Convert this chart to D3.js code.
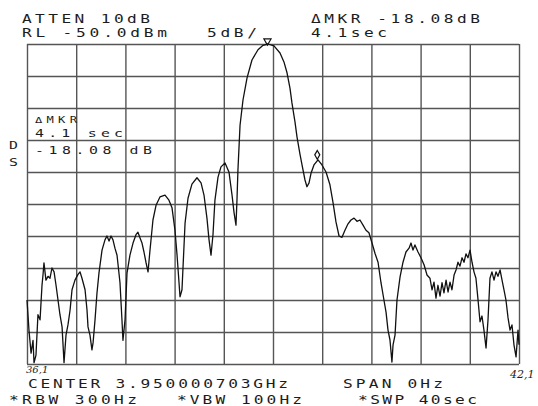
<!DOCTYPE html>
<html>
<head>
<meta charset="utf-8">
<script src="https://cdn.jsdelivr.net/npm/d3@7"></script>
<style>
    body { margin: 0; background: #fff; }
    text { font-family: "DejaVu Sans Mono", monospace; fill: #1c1c1c; }
</style>
</head>
<body>
<div id="chart"></div>
<script>

    // trace: time in sec (span 0 Hz, sweep 40 sec), level in dBm
    var traceT = [0, 0.16, 0.33, 0.49, 0.57, 0.73, 0.89, 1.06, 1.22, 1.30, 1.38, 1.54, 1.71, 1.87, 2.03, 2.20,
        2.36, 2.52, 2.68, 2.85, 3.01, 3.17, 3.33, 3.50, 3.66, 3.90, 4.15, 4.31, 4.47, 4.72, 4.88, 4.96,
        5.12, 5.28, 5.37, 5.53, 5.69, 5.85, 6.10, 6.34, 6.50, 6.67, 6.83, 6.99, 7.15, 7.32, 7.56, 7.72,
        7.80, 7.97, 8.13, 8.37, 8.62, 8.86, 9.02, 9.19, 9.35, 9.51, 9.67, 9.84, 10.0, 10.24, 10.49, 10.81,
        11.22, 11.54, 11.79, 12.03, 12.20, 12.44, 12.60, 12.85, 13.09, 13.41, 13.82, 14.15, 14.39, 14.63,
        14.80, 14.96, 15.12, 15.28, 15.53, 15.77, 16.10, 16.42, 16.67, 16.83, 16.99, 17.07, 17.15, 17.32,
        17.56, 17.89, 18.29, 18.78, 19.19, 19.59, 20.08, 20.57, 20.89, 21.14, 21.38, 21.54, 21.79, 21.95,
        22.20, 22.36, 22.60, 22.76, 22.93, 23.09, 23.33, 23.66, 23.98, 24.31, 24.63, 24.88, 25.12, 25.37,
        25.61, 25.85, 26.10, 26.34, 26.59, 26.83, 27.07, 27.32, 27.56, 27.80, 28.05, 28.29, 28.54, 28.78,
        29.02, 29.19, 29.35, 29.51, 29.67, 29.76, 29.92, 30.08, 30.33, 30.57, 30.81, 31.06, 31.22, 31.38,
        31.54, 31.79, 32.03, 32.28, 32.52, 32.76, 32.93, 33.09, 33.25, 33.41, 33.58, 33.74, 33.90, 34.07,
        34.23, 34.39, 34.55, 34.72, 34.88, 35.04, 35.20, 35.37, 35.53, 35.69, 35.85, 36.02, 36.18, 36.34,
        36.50, 36.67, 36.83, 36.99, 37.15, 37.32, 37.48, 37.64, 37.80, 37.97, 38.13, 38.29, 38.46, 38.62,
        38.78, 38.94, 39.11, 39.27, 39.43, 39.59, 39.76, 39.92, 40.0];

    var traceDbm = [-90, -94.7, -98.3, -96.3, -99.8, -98.6, -92.3, -93.1, -87.7, -86.1, -84.2, -86.9, -86.3, -86.6, -85.0, -85.6,
        -87.7, -90.0, -92.3, -94.2, -99.8, -95.5, -93.9, -91.6, -88.4, -86.9, -86.0, -85.6, -86.6, -88.4, -91.6, -94.2,
        -95.5, -97.8, -96.7, -93.1, -88.9, -85.8, -82.2, -80.6, -80.0, -80.8, -80.0, -80.6, -81.9, -83.0, -87.3, -93.1,
        -96.3, -93.1, -85.8, -83.0, -81.1, -79.8, -79.4, -80.3, -81.1, -82.5, -84.1, -85.6, -82.2, -77.5, -75.2, -73.9,
        -73.6, -74.4, -75.6, -79.1, -83.0, -89.5, -88.4, -78.0, -74.1, -71.9, -70.9, -71.7, -73.6, -77.2,
        -80.6, -83.0, -79.8, -74.4, -70.8, -69.2, -68.6, -70.0, -73.6, -76.3, -78.3, -74.4, -69.7, -62.7,
        -58.75, -55.3, -52.5, -50.9, -50.2, -50.0, -50.3, -51.4, -52.8, -54.5, -56.9, -59.2, -62.2, -64.5,
        -67.3, -68.9, -71.25, -72.3, -71.7, -70.2, -68.9, -68.1, -68.9, -70.0, -72.0, -74.8, -77.8, -80.0,
        -80.2, -79.1, -78.1, -77.5, -77.2, -77.7, -77.5, -78.3, -79.1, -79.5, -81.1, -82.7, -84.1, -87.3,
        -90.0, -91.9, -94.7, -96.25, -99.7, -97.0, -95.5, -90.0, -86.4, -84.1, -82.5, -81.9, -81.1, -82.2,
        -81.4, -82.5, -83.4, -84.5, -86.1, -86.6, -88.4, -87.2, -89.7, -87.7, -89.4, -87.3, -88.9, -86.9,
        -88.75, -87.2, -88.4, -86.1, -85.3, -84.1, -84.7, -83.4, -84.1, -82.8, -83.4, -82.2, -84.1, -85.6,
        -86.6, -90.0, -93.4, -92.5, -94.7, -97.5, -93.1, -86.6, -85.6, -86.9, -85.6, -86.3, -85.3, -86.9,
        -88.4, -90.0, -92.8, -94.7, -93.9, -97.0, -98.9, -94.7, -97.0];

    // markers: reference (peak) and delta marker
    var markerT = [19.55, 23.6];
    var markerDbm = [-50.0, -68.1];

    var timeTicks = d3.range(0, 41, 4);
    var levelTicks = d3.range(-100, -49, 5);

    var width = 538, height = 406;
    var plot = {left: 27, right: 519, top: 44, bottom: 364};

    var svg = d3.select("#chart")
        .append("svg")
        .attr("width", width)
        .attr("height", height);

    var x = d3.scaleLinear()
        .domain([0, 40])
        .range([plot.left, plot.right]);

    var y = d3.scaleLinear()
        .domain([-100, -50])
        .range([plot.bottom, plot.top]);

    // vertical grid
    svg.append("g")
        .attr("transform", "translate(0," + plot.bottom + ")")
        .call(d3.axisBottom(x).tickValues(timeTicks).tickSize(-(plot.bottom - plot.top)).tickFormat(""))
        .call(function(g) { g.select(".domain").remove(); })
        .selectAll("line")
        .attr("stroke", "#555")
        .attr("stroke-width", 1.4);

    // horizontal grid
    svg.append("g")
        .attr("transform", "translate(" + plot.left + ",0)")
        .call(d3.axisLeft(y).tickValues(levelTicks).tickSize(-(plot.right - plot.left)).tickFormat(""))
        .call(function(g) { g.select(".domain").remove(); })
        .selectAll("line")
        .attr("stroke", "#555")
        .attr("stroke-width", 1.4);

    // trace
    var traceData = traceT.map(function(t, i) { return {t: t, v: traceDbm[i]}; });
    svg.append("path")
        .datum(traceData)
        .attr("fill", "none")
        .attr("stroke", "#111")
        .attr("stroke-width", 1.3)
        .attr("stroke-linejoin", "round")
        .attr("d", d3.line()
            .x(function(d) { return x(d.t); })
            .y(function(d) { return y(d.v); }));

    // marker symbols
    svg.append("path")
        .attr("transform", "translate(" + x(markerT[0]) + "," + (y(markerDbm[0]) - 3) + ") rotate(180)")
        .attr("d", d3.symbol().type(d3.symbolTriangle).size(22))
        .attr("fill", "none")
        .attr("stroke", "#111")
        .attr("stroke-width", 1.2);
    svg.append("path")
        .attr("transform", "translate(" + x(markerT[1]) + "," + (y(markerDbm[1]) - 5) + ")")
        .attr("d", d3.symbol().type(d3.symbolDiamond).size(22))
        .attr("fill", "none")
        .attr("stroke", "#111")
        .attr("stroke-width", 1.2);

    // annotation texts: plotter font is wide, so stretch glyphs a bit and spread the rest
    var stretch = 1.35;
    function label(txt, lx, ly, len, size) {
        svg.append("g")
            .attr("transform", "translate(" + lx + "," + ly + ") scale(" + stretch + ",1)")
            .append("text")
            .attr("x", 0)
            .attr("y", 0)
            .attr("textLength", len / stretch)
            .attr("lengthAdjust", "spacing")
            .style("font-size", (size || 12) + "px")
            .text(txt);
    }

    label("ATTEN 10dB", 22, 23, 128);
    label("RL -50.0dBm", 22, 37, 145);
    label("5dB/", 207, 37, 50);
    label("ΔMKR -18.08dB", 311, 23, 169);
    label("4.1sec", 311, 37, 76);

    label("ΔMKR", 35, 123, 42, 9);
    label("4.1 sec", 35, 137, 88, 11);
    label("-18.08 dB", 35, 154, 117, 11);
    label("D", 9, 149, 7, 11);
    label("S", 9, 166, 7, 11);

    label("CENTER 3.950000703GHz", 28, 388, 260);
    label("SPAN 0Hz", 343, 388, 100);
    label("*RBW 300Hz", 9, 404, 128);
    label("*VBW 100Hz", 177, 404, 125);
    label("*SWP 40sec", 358, 404, 119);

    // handwritten notes
    svg.append("text")
        .attr("x", 26).attr("y", 373)
        .style("font-family", "'DejaVu Serif', serif")
        .style("font-style", "italic")
        .style("font-size", "10px")
        .text("36,1");
    svg.append("text")
        .attr("x", 510).attr("y", 378)
        .style("font-family", "'DejaVu Serif', serif")
        .style("font-style", "italic")
        .style("font-size", "11px")
        .text("42,1");

</script>
</body>
</html>
